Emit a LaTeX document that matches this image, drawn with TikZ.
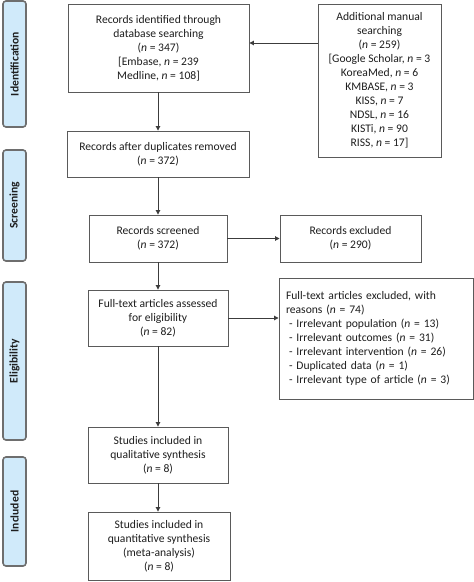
\documentclass[tikz,border=0pt]{standalone}
\usepackage{fontspec}
\setmainfont{Carlito}
\usetikzlibrary{arrows.meta}
\definecolor{sidefill}{RGB}{208,234,250}
\definecolor{sideline}{RGB}{110,110,110}
\definecolor{boxline}{RGB}{90,90,90}
\definecolor{arrline}{RGB}{60,60,60}
\definecolor{txt}{RGB}{30,30,30}
\newcommand{\nn}{\textit{n}}
\begin{document}
\begin{tikzpicture}[x=1pt,y=-1pt,
  box/.style={draw=boxline, line width=0.9pt, fill=white, align=center, inner sep=0pt,
    text=txt, font=\fontsize{11.6}{14}\selectfont},
  sidelab/.style={draw=sideline, line width=1.6pt, fill=sidefill, rounded corners=3pt,
    rotate=90, inner sep=0pt, minimum height=23pt, text=txt,
    font=\bfseries\fontsize{11.6}{13}\selectfont},
  arr/.style={draw=arrline, line width=0.9pt, -{Triangle[width=4.5pt,length=4.5pt]}}
]
\useasboundingbox (0,0) rectangle (474,582);

% side labels
\node[sidelab, minimum width=126pt] (sid) at (14.5,64) {Identification};
\node[sidelab, minimum width=111pt] (sscr) at (14.5,205.5) {Screening};
\node[sidelab, minimum width=158pt] (selg) at (14.5,361) {Eligibility};
\node[sidelab, minimum width=109pt] (sinc) at (14.5,511.5) {Included};

% boxes
\node[box, minimum width=181pt, minimum height=88pt] (ident) at (158.5,48)
  {Records identified through\\database searching\\(\nn{} = 347)\\{[}Embase, \nn{} = 239\\Medline, \nn{} = 108]};
\node[box, minimum width=123pt, minimum height=153pt] (manual) at (379.5,80.5)
  {Additional manual\\searching\\(\nn{} = 259)\\{[}Google Scholar, \nn{} = 3\\KoreaMed, \nn{} = 6\\KMBASE, \nn{} = 3\\KISS, \nn{} = 7\\NDSL, \nn{} = 16\\KISTi, \nn{} = 90\\RISS, \nn{} = 17]};
\node[box, minimum width=182pt, minimum height=46pt] (dup) at (158,154)
  {Records after duplicates removed\\(\nn{} = 372)};
\node[box, minimum width=138pt, minimum height=47pt] (scr) at (158,238.5)
  {Records screened\\(\nn{} = 372)};
\node[box, minimum width=141pt, minimum height=47pt] (excl) at (350.5,238.5)
  {Records excluded\\(\nn{} = 290)};
\node[box, minimum width=140pt, minimum height=56pt] (full) at (158,318)
  {Full-text articles assessed\\for eligibility\\(\nn{} = 82)};
\node[box, minimum width=194pt, minimum height=121pt, align=left, text width=180pt] (fexcl) at (376,338.5)
  {Full-text articles excluded, with\\reasons (\nn{} = 74)\\
  \hspace*{3pt}- Irrelevant population (\nn{} = 13)\\
  \hspace*{3pt}- Irrelevant outcomes (\nn{} = 31)\\
  \hspace*{3pt}- Irrelevant intervention (\nn{} = 26)\\
  \hspace*{3pt}- Duplicated data (\nn{} = 1)\\
  \hspace*{3pt}- Irrelevant type of article (\nn{} = 3)};
\node[box, minimum width=140pt, minimum height=56pt] (qual) at (158,455)
  {Studies included in\\qualitative synthesis\\(\nn{} = 8)};
\node[box, minimum width=142pt, minimum height=68pt] (quant) at (159,546)
  {Studies included in\\quantitative synthesis\\(meta-analysis)\\(\nn{} = 8)};

% connectors
\coordinate (mrow) at (0,43);
\draw[arr] (manual.west |- mrow) -- (ident.east |- mrow);
\draw[arr] (ident.south -| dup.north) -- (dup.north);
\draw[arr] (dup.south -| scr.north) -- (scr.north);
\draw[arr] (scr.east) -- (excl.west);
\draw[arr] (scr.south) -- (full.north);
\draw[arr] (full.east) -- (full.east -| fexcl.west);
\draw[arr] (full.south) -- (qual.north);
\draw[arr] (qual.south) -- (qual.south |- quant.north);
\end{tikzpicture}
\end{document}
